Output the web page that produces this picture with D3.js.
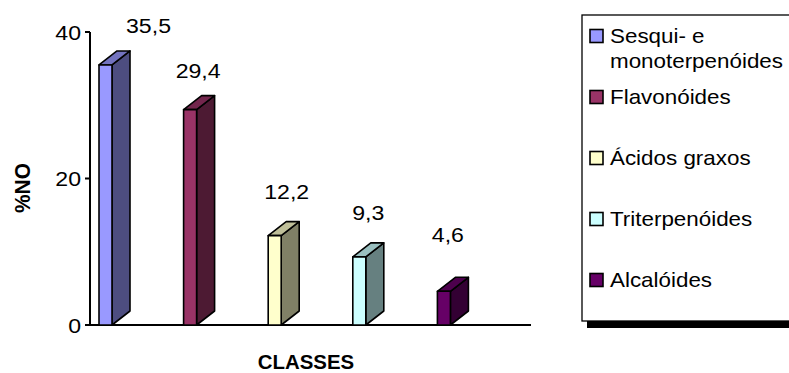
<!DOCTYPE html>
<html><head><meta charset="utf-8">
<script src="https://cdn.jsdelivr.net/npm/d3@7"></script>
<style>
html,body{margin:0;padding:0;background:#fff;}
svg{display:block;font-family:"Liberation Sans",Arial,sans-serif;}
</style></head>
<body><svg id="c" width="789" height="373"></svg>
<script>
const categories = ["Sesqui- e monoterpenóides","Flavonóides","Ácidos graxos","Triterpenóides","Alcalóides"];
const legendLines = [["Sesqui- e","monoterpenóides"],["Flavonóides"],["Ácidos graxos"],["Triterpenóides"],["Alcalóides"]];
const values = [35.5, 29.4, 12.2, 9.3, 4.6];
const valueLabels = ["35,5","29,4","12,2","9,3","4,6"];
const yTicks = [0, 20, 40];
const frontColors = ["#9999FF","#993366","#FFFFCC","#CCFFFF","#660066"];
const sideColors  = ["#4D4D80","#4D1A33","#808066","#668080","#330033"];
const topColors   = ["#7373BF","#73264D","#BFBF99","#99BFBF","#4D004D"];
// label nudges (layout only)
const labelDx = [34, -1, 3, 0, -5];
const labelDy = [-32, -32, -37, -37, -49];

const svg = d3.select("#c");
const y = d3.scaleLinear().domain([0,40]).range([325,32]);
const x = d3.scaleBand().domain(categories).range([90,513]).padding(0);
const fw = 13, ddx = 18, ddy = 14, off = 9;
const SX = 1.1;

// axes lines
svg.append("line").attr("x1",90).attr("x2",90).attr("y1",y(40)).attr("y2",y(0))
  .attr("stroke","#000").attr("stroke-width",2);
svg.append("line").attr("x1",85).attr("x2",531).attr("y1",y(0)).attr("y2",y(0))
  .attr("stroke","#000").attr("stroke-width",2);
yTicks.forEach(t=>{
  svg.append("line").attr("x1",85).attr("x2",90).attr("y1",y(t)).attr("y2",y(t))
    .attr("stroke","#000").attr("stroke-width",2);
  svg.append("text").attr("text-anchor","end")
    .attr("transform",`translate(81,${y(t)+7.5}) scale(${SX},1)`)
    .attr("font-size",21).text(t);
});

// bars
categories.forEach((c,i)=>{
  const x0 = x(c)+off, x1 = x0+fw, yt = y(values[i]), yb = y(0);
  const g = svg.append("g").attr("stroke","#000").attr("stroke-width",1.6).attr("stroke-linejoin","round");
  g.append("path").attr("fill",sideColors[i])
    .attr("d",`M${x1},${yt}L${x1+ddx},${yt-ddy}L${x1+ddx},${yb-ddy}L${x1},${yb}Z`);
  g.append("path").attr("fill",topColors[i])
    .attr("d",`M${x0},${yt}L${x0+ddx},${yt-ddy}L${x1+ddx},${yt-ddy}L${x1},${yt}Z`);
  g.append("rect").attr("fill",frontColors[i]).attr("x",x0).attr("y",yt).attr("width",fw).attr("height",yb-yt);
  svg.append("text").attr("text-anchor","middle")
    .attr("transform",`translate(${x0+(fw+ddx)/2+labelDx[i]},${yt+labelDy[i]}) scale(${SX},1)`)
    .attr("font-size",21).text(valueLabels[i]);
});

// axis titles
svg.append("text").attr("text-anchor","middle").attr("font-weight","bold")
  .attr("transform","translate(30,188) rotate(-90) scale(1.1,1.15)").attr("font-size",19).text("%NO");
svg.append("text").attr("text-anchor","middle").attr("font-weight","bold")
  .attr("transform","translate(306,369) scale(1.02,1)").attr("font-size",20).text("CLASSES");

// legend
svg.append("rect").attr("x",587).attr("y",20).attr("width",230).attr("height",308).attr("fill","#000");
svg.append("rect").attr("x",582).attr("y",15).attr("width",230).attr("height",306)
  .attr("fill","#fff").attr("stroke","#000").attr("stroke-width",1.3);
const ly = d3.scaleLinear().domain([0,4]).range([36,280]);
legendLines.forEach((lines,i)=>{
  const cy = ly(i);
  svg.append("rect").attr("x",590).attr("y",cy-6.5).attr("width",13).attr("height",13)
    .attr("fill",frontColors[i]).attr("stroke","#000").attr("stroke-width",1.6);
  lines.forEach((t,j)=>{
    svg.append("text").attr("transform",`translate(610,${cy+6.5+j*25}) scale(1.12,1)`)
      .attr("font-size",20).text(t);
  });
});
</script></body></html>
